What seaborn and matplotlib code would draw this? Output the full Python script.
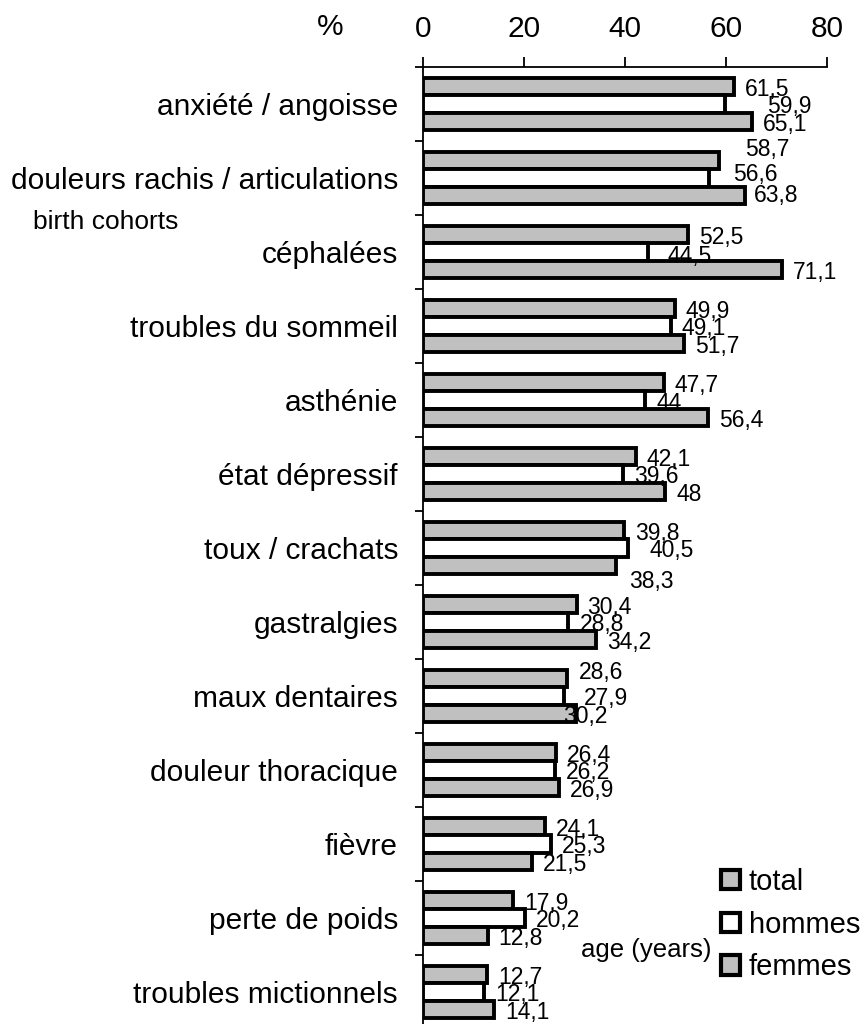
import pandas as pd
import numpy as np
import matplotlib
matplotlib.use('Agg')
import matplotlib.pyplot as plt
from matplotlib.patches import Patch
import seaborn as sns

# ------------------------------------------------------------
# data
# ------------------------------------------------------------
categories = ['anxiété / angoisse', 'douleurs rachis / articulations', 'céphalées',
              'troubles du sommeil', 'asthénie', 'état dépressif', 'toux / crachats',
              'gastralgies', 'maux dentaires', 'douleur thoracique', 'fièvre',
              'perte de poids', 'troubles mictionnels']
groups = ['total', 'hommes', 'femmes']
total = [61.5, 58.7, 52.5, 49.9, 47.7, 42.1, 39.8, 30.4, 28.6, 26.4, 24.1, 17.9, 12.7]
hommes = [59.9, 56.6, 44.5, 49.1, 44, 39.6, 40.5, 28.8, 27.9, 26.2, 25.3, 20.2, 12.1]
femmes = [65.1, 63.8, 71.1, 51.7, 56.4, 48, 38.3, 34.2, 30.2, 26.9, 21.5, 12.8, 14.1]
x_ticks = [0, 20, 40, 60, 80]

df = pd.DataFrame({
    'symptome': categories * 3,
    'groupe': np.repeat(groups, len(categories)),
    'pct': total + hommes + femmes,
})

# label nudges (pixels: right, down) where the labels were dragged around
default_nudge = (11, 3)
nudges = {(0, 1): (42, 2), (1, 0): (26, -11), (1, 1): (24, -4), (1, 2): (9, 0),
          (2, 1): (20, 5), (6, 1): (22, 3), (6, 2): (13, 16), (8, 0): (11, -6),
          (8, 1): (20, 2), (8, 2): (-12, 3)}

# ------------------------------------------------------------
# plot
# ------------------------------------------------------------
sns.set_style('white')
plt.rcParams['font.family'] = ['Liberation Sans', 'DejaVu Sans']
for key in ['text.color', 'axes.labelcolor', 'xtick.color', 'ytick.color']:
    plt.rcParams[key] = 'black'

gray = '#C0C0C0'
fig = plt.figure(figsize=(8.68, 10.24), dpi=100)
ax = fig.add_axes([423 / 868, 1 - 1029 / 1024, 404 / 868, 962 / 1024])

sns.barplot(data=df, y='symptome', x='pct', hue='groupe', orient='h',
            order=categories, hue_order=groups, palette=[gray, 'white', gray],
            saturation=1, width=0.7, edgecolor='black', linewidth=2.8,
            legend=False, ax=ax)

ax.set_xlim(0, 80)
ax.set_ylim(len(categories) - 0.5, -0.5)
ax.set_xlabel('')
ax.set_ylabel('')

# axis styling
ax.xaxis.tick_top()
ax.set_xticks(x_ticks)
ax.set_xticklabels([str(t) for t in x_ticks], fontsize=21.5)
ax.tick_params(axis='x', direction='out', length=7, width=1.3, pad=10)
ax.set_yticks(range(len(categories)))
ax.set_yticklabels(categories, fontsize=21.5)
ax.tick_params(axis='y', which='major', length=0, pad=18)
ax.set_yticks(np.arange(-0.5, len(categories), 1), minor=True)
ax.tick_params(axis='y', which='minor', direction='out', length=6, width=1.3, left=True)
for side in ['right', 'bottom']:
    ax.spines[side].set_visible(False)
for side in ['top', 'left']:
    ax.spines[side].set_color('black')
    ax.spines[side].set_linewidth(1.3)

# value labels
px = 72 / 100
for j, cont in enumerate(ax.containers):
    for i, bar in enumerate(cont):
        v = bar.get_width()
        yc = bar.get_y() + bar.get_height() / 2
        dx, dy = nudges.get((i, j), default_nudge)
        ax.annotate(f'{v:g}'.replace('.', ','), xy=(v, yc),
                    xytext=(dx * px, -dy * px), textcoords='offset points',
                    ha='left', va='center', fontsize=16.5, annotation_clip=False)

# odd leftover texts
fig.text(330 / 868, 1 - 27 / 1024, '%', fontsize=21.5, ha='center', va='center')
fig.text(33 / 868, 1 - 222 / 1024, 'birth cohorts', fontsize=19, ha='left', va='center')
fig.text(581 / 868, 1 - 950 / 1024, 'age (years)', fontsize=18.5, ha='left', va='center')

handles = [Patch(facecolor=c, edgecolor='black', linewidth=3)
           for c in [gray, 'white', gray]]
fig.legend(handles, groups, loc='upper left', bbox_to_anchor=(721 / 868, 1 - 868 / 1024),
           frameon=False, fontsize=21, handlelength=0.65, handleheight=0.65,
           handletextpad=0.3, labelspacing=0.5, borderpad=0, borderaxespad=0)

plt.savefig('out.png', dpi=100)
